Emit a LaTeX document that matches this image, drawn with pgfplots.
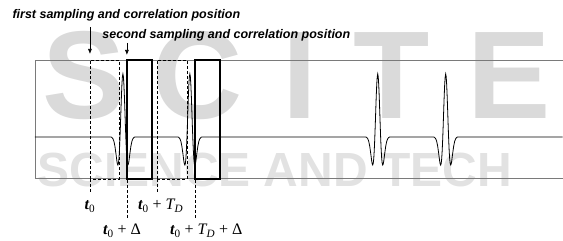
\documentclass[border=0pt]{standalone}
\usepackage{pgfplots}
\pgfplotsset{compat=1.18}
\usetikzlibrary{arrows.meta}
\usepackage{fontspec}
\setmainfont{Liberation Serif}
\newfontfamily\arial{Liberation Sans}
\definecolor{wm}{HTML}{DADADA}
\definecolor{wmb}{HTML}{E2E2E2}
\definecolor{frame}{HTML}{7A7A7A}
\newcommand{\tz}{{\bfseries\itshape t}\textsubscript{0}}
\newcommand{\TD}{{\itshape T}\textsubscript{\itshape D}}
\begin{document}
\begin{tikzpicture}
\begin{axis}[
  x=1pt, y=1pt,
  xmin=35, xmax=563, ymin=-42, ymax=77,
  hide axis, clip=false,
]
% bounding box of the whole picture
\path (axis cs:0,-104) rectangle (axis cs:563,137);
% watermark
\begin{scope}[wm, overlay]
\node[font=\arial\bfseries\fontsize{125}{125}\selectfont, anchor=base] at (axis cs:84,18) {S};
\node[font=\arial\bfseries\fontsize{125}{125}\selectfont, anchor=base] at (axis cs:198,18) {C};
\node[font=\arial\bfseries\fontsize{125}{125}\selectfont, anchor=base] at (axis cs:300,18) {I};
\node[font=\arial\bfseries\fontsize{125}{125}\selectfont, anchor=base] at (axis cs:392,18) {T};
\node[font=\arial\bfseries\fontsize{125}{125}\selectfont, anchor=base] at (axis cs:510,18) {E};
\node[wmb, font=\arial\bfseries\fontsize{48}{48}\selectfont, anchor=base west] at (axis cs:34,-50) {SCIENCE AND TECH};
\end{scope}
% frame (left, top, bottom)
\draw[frame, line width=0.8pt] (axis cs:563,77) -- (axis cs:35,77) -- (axis cs:35,-42) -- (axis cs:563,-42);
% signal
\addplot[black, line width=0.8pt, mark=none] table {
x y
35 0
111 0
112 -0.6
113 -1.8
114 -4.4
115 -9.3
116 -16.5
117 -24.3
117.5 -27.1
118 -28.1
118.5 -26.6
119 -22.0
119.5 -13.9
120 -2.6
120.5 11.1
121 26.0
121.5 40.4
122 52.3
122.5 60.2
123 63
123.5 60.2
124 52.3
124.5 40.4
125 26.0
125.5 11.1
126 -2.6
126.5 -13.9
127 -22.0
127.5 -26.6
128 -28.1
128.5 -27.1
129 -24.3
130 -16.5
131 -9.3
132 -4.4
133 -1.8
134 -0.6
135 0
178 0
179 -0.6
180 -1.8
181 -4.4
182 -9.3
183 -16.5
184 -24.3
184.5 -27.1
185 -28.1
185.5 -26.6
186 -22.0
186.5 -13.9
187 -2.6
187.5 11.1
188 26.0
188.5 40.4
189 52.3
189.5 60.2
190 63
190.5 60.2
191 52.3
191.5 40.4
192 26.0
192.5 11.1
193 -2.6
193.5 -13.9
194 -22.0
194.5 -26.6
195 -28.1
195.5 -27.1
196 -24.3
197 -16.5
198 -9.3
199 -4.4
200 -1.8
201 -0.6
202 0
366 0
367 -0.6
368 -1.8
369 -4.4
370 -9.3
371 -16.5
372 -24.3
372.5 -27.1
373 -28.1
373.5 -26.6
374 -22.0
374.5 -13.9
375 -2.6
375.5 11.1
376 26.0
376.5 40.4
377 52.3
377.5 60.2
378 63
378.5 60.2
379 52.3
379.5 40.4
380 26.0
380.5 11.1
381 -2.6
381.5 -13.9
382 -22.0
382.5 -26.6
383 -28.1
383.5 -27.1
384 -24.3
385 -16.5
386 -9.3
387 -4.4
388 -1.8
389 -0.6
390 0
434 0
435 -0.6
436 -1.8
437 -4.4
438 -9.3
439 -16.5
440 -24.3
440.5 -27.1
441 -28.1
441.5 -26.6
442 -22.0
442.5 -13.9
443 -2.6
443.5 11.1
444 26.0
444.5 40.4
445 52.3
445.5 60.2
446 63
446.5 60.2
447 52.3
447.5 40.4
448 26.0
448.5 11.1
449 -2.6
449.5 -13.9
450 -22.0
450.5 -26.6
451 -28.1
451.5 -27.1
452 -24.3
453 -16.5
454 -9.3
455 -4.4
456 -1.8
457 -0.6
458 0
563 0
};
% dashed windows
\draw[black, line width=0.6pt, dash pattern=on 3pt off 2pt] (axis cs:90,-42) rectangle (axis cs:119,77);
\draw[black, line width=0.6pt, dash pattern=on 3pt off 2pt] (axis cs:157,-42) rectangle (axis cs:187,77);
% dashed time markers
\draw[black, line width=0.6pt, dash pattern=on 3pt off 2pt] (axis cs:90,-42) -- (axis cs:90,-55);
\draw[black, line width=0.6pt, dash pattern=on 3pt off 2pt] (axis cs:157,-42) -- (axis cs:157,-55);
\draw[black, line width=0.6pt, dash pattern=on 3pt off 2pt] (axis cs:127,77) -- (axis cs:127,-81);
\draw[black, line width=0.6pt, dash pattern=on 3pt off 2pt] (axis cs:195,77) -- (axis cs:195,-81);
% solid windows
\draw[black, line width=1.6pt] (axis cs:127,-42) rectangle (axis cs:152,77);
\draw[black, line width=1.6pt] (axis cs:195,-42) rectangle (axis cs:220,77);
% arrows
\draw[black, line width=0.6pt, -{Latex[length=5pt,width=4pt]}] (axis cs:90,110) -- (axis cs:90,83);
\draw[black, line width=0.6pt, -{Latex[length=5pt,width=4pt]}] (axis cs:127,94) -- (axis cs:127,82);
% titles
\node[font=\arial\bfseries\itshape\fontsize{12.5}{14}\selectfont, anchor=west] at (axis cs:9,122) {first sampling and correlation position};
\node[font=\arial\bfseries\itshape\fontsize{12.5}{14}\selectfont, anchor=west] at (axis cs:99,102) {second sampling and correlation position};
% time labels
\node[font=\fontsize{16}{18}\selectfont, anchor=base] at (axis cs:90,-73) {\tz};
\node[font=\fontsize{16}{18}\selectfont, anchor=base west, inner sep=0pt] at (axis cs:138,-73) {\tz\ + \TD};
\node[font=\fontsize{16}{18}\selectfont, anchor=base west, inner sep=0pt] at (axis cs:103,-98) {\tz\ + Δ};
\node[font=\fontsize{16}{18}\selectfont, anchor=base west, inner sep=0pt] at (axis cs:170,-98) {\tz\ + \TD\ + Δ};
\end{axis}
\end{tikzpicture}
\end{document}
